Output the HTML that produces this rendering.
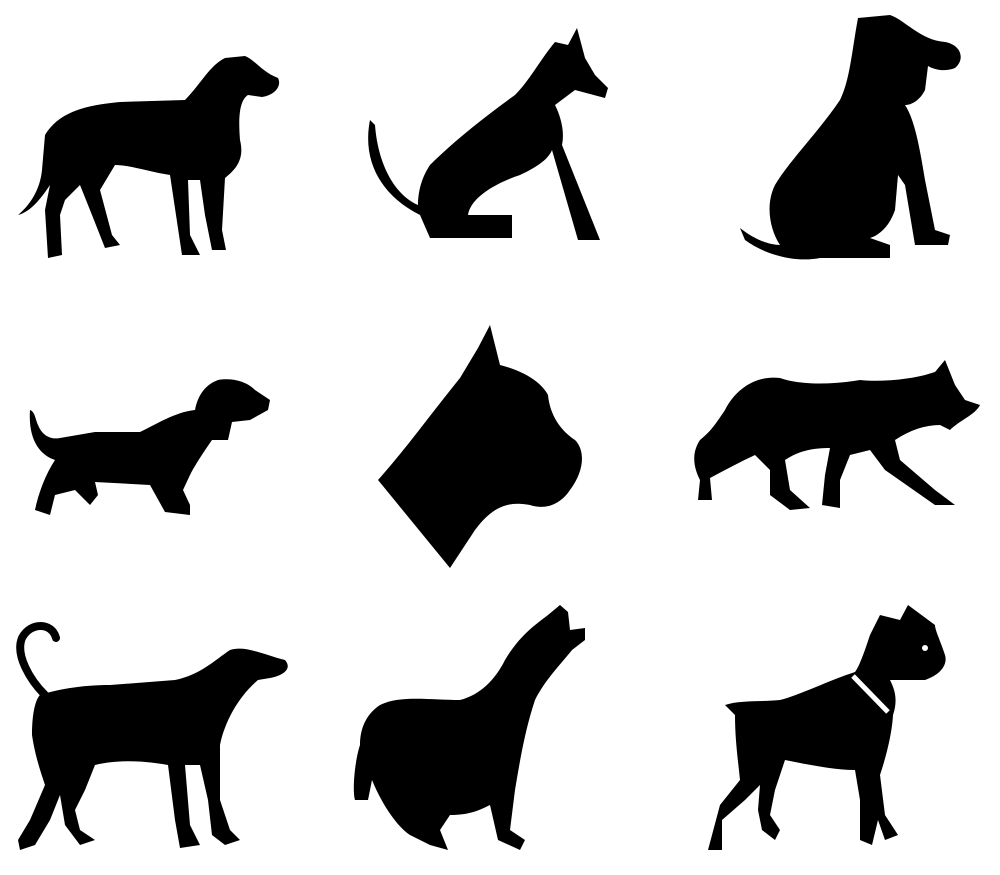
<!DOCTYPE html>
<html><head><meta charset="utf-8"><style>html,body{margin:0;padding:0;background:#fff;}svg{display:block;}</style></head>
<body>
<svg width="1000" height="875" viewBox="0 0 1000 875" xmlns="http://www.w3.org/2000/svg">
<rect width="1000" height="875" fill="#fff"/>
<g fill="#000">
<path d="M45,135 C60,110 90,105 120,102 L185,100 C200,85 210,65 225,58 L245,56 C255,60 262,72 278,78 C282,86 275,95 262,97 L248,95 C240,100 238,115 240,140 C245,160 235,170 225,178 L222,230 L226,250 L212,250 L205,215 L200,180 L188,180 L190,235 L200,255 L182,255 L176,215 L170,175 C150,172 130,165 115,165 L100,190 L112,235 L120,245 L105,248 L92,215 L80,185 L65,200 L60,215 L62,255 L48,258 L45,210 L50,185 C40,200 30,212 18,215 C30,205 40,190 42,170 Z"/>
<path d="M370,120 C362,160 380,195 420,215 L430,238 L512,238 L512,215 L468,215 C470,200 490,185 520,175 C535,168 548,160 552,150 L578,240 L600,240 L562,145 C565,130 560,115 555,105 L575,90 L605,98 L608,88 L595,75 L585,58 L577,28 L568,45 L555,42 C540,60 530,80 515,95 C480,120 450,145 430,165 C420,180 418,195 418,205 C395,195 378,165 375,125 Z"/>
<path d="M858,18 L890,15 C905,20 920,40 945,42 C962,45 965,60 955,68 C945,72 935,70 928,66 L925,90 C920,100 912,105 905,105 C915,120 920,150 925,180 L935,230 L950,235 L948,245 L915,245 L905,185 L898,175 L895,210 C890,225 880,235 870,238 L890,245 L890,258 L820,258 C800,262 770,258 745,240 L740,228 C755,240 770,245 780,245 C770,230 765,205 775,185 C790,160 820,130 840,100 C850,80 852,50 858,18 Z"/>
<path d="M30,410 C28,440 40,455 55,460 C45,475 38,495 35,510 L50,515 L55,495 L75,490 L90,505 L98,495 L95,482 L150,485 L165,512 L190,515 L190,505 L183,490 L190,475 C195,465 205,450 212,440 L228,440 L232,422 L250,420 L268,410 L270,400 L255,390 C245,380 230,378 218,380 C205,385 198,395 195,410 C175,412 155,425 140,432 L95,432 L60,438 C50,440 42,435 38,425 C35,418 35,412 30,410 Z"/>
<path d="M378,480 L450,568 L475,530 C490,510 505,500 530,505 C545,510 560,505 570,490 C585,470 585,450 575,440 C560,430 550,415 548,395 C540,380 520,370 500,365 L490,325 L478,348 L460,378 C430,415 405,450 378,480 Z"/>
<path d="M700,440 C690,455 695,470 700,480 L698,500 L712,500 L710,478 C725,470 740,462 755,455 L770,470 L770,495 L790,510 L810,508 L790,490 L785,460 C800,450 815,448 830,448 L825,475 L822,505 L840,508 L840,480 L850,455 L870,450 L885,470 L935,505 L955,505 L935,490 L900,460 L895,440 C910,430 925,425 940,425 L950,430 C960,420 975,415 980,405 L965,400 L955,385 L945,360 L935,372 L925,375 C905,380 880,382 860,380 C830,385 800,385 780,378 C755,375 735,390 725,410 C715,425 710,432 700,440 Z"/>
<path d="M40,695 C55,690 80,685 110,685 L175,680 C200,675 215,660 230,650 C245,645 265,655 285,660 C292,668 285,675 270,678 L258,680 C240,695 225,720 220,745 L220,800 L230,830 L240,840 L225,845 L212,835 L208,800 L200,765 L185,765 L190,825 L200,845 L180,848 L175,820 L168,765 C140,760 115,760 95,765 L85,790 L75,810 L80,830 L95,840 L80,845 L65,825 L60,795 L50,820 L35,845 L20,850 L18,840 L30,820 L45,785 C40,770 35,755 32,735 C32,715 35,700 40,695 Z"/>
<path fill="none" stroke="#000" stroke-width="8" stroke-linecap="round" d="M45,695 C30,680 15,655 22,638 C30,622 52,622 56,638"/>
<path d="M360,745 C355,760 352,790 355,800 L368,800 L372,780 C380,800 395,825 410,835 L430,845 L448,850 L440,830 L450,815 C470,815 480,810 490,805 L498,840 L520,850 L525,840 L510,830 L515,790 C520,760 525,730 535,700 C545,680 560,665 572,650 L585,640 L585,628 L570,630 L568,612 L560,605 L548,615 C535,625 520,635 505,660 C495,680 480,695 460,700 C430,700 400,695 380,705 C365,715 360,730 360,745 Z"/>
<path d="M725,705 L735,715 C735,740 738,760 740,780 L720,805 L712,835 L708,850 L722,850 L722,820 L745,800 L760,785 L758,810 L762,830 L775,840 L780,830 L770,815 L775,790 L785,760 C810,765 835,770 855,770 L860,800 L860,840 L872,845 L878,820 L885,840 L898,835 L885,815 L880,775 C885,760 892,735 893,715 C898,700 895,690 890,680 L925,680 C940,675 948,665 945,655 C940,640 935,630 935,625 L908,605 L900,620 L880,615 L870,635 C865,650 860,665 855,672 C830,680 800,695 780,700 C760,702 740,700 725,705 Z"/>
</g>
<path d="M853,676 L888,712" stroke="#fff" stroke-width="5" fill="none"/>
<circle cx="925" cy="648" r="3" fill="#fff"/>
</svg>
</body></html>
